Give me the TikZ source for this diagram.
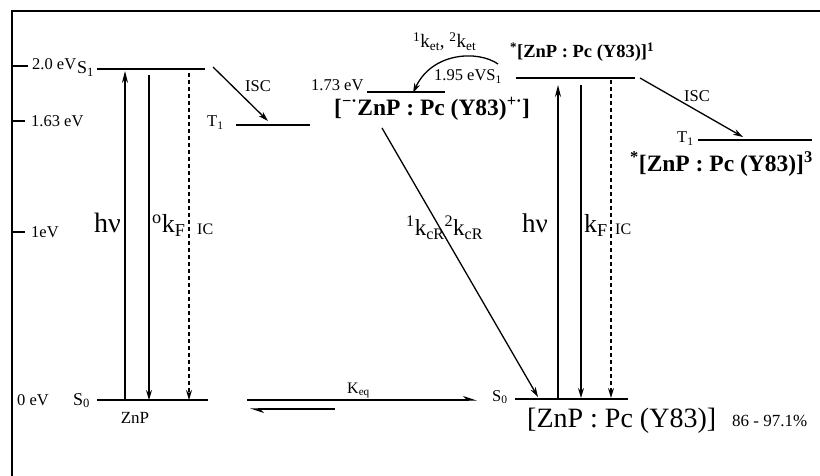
\documentclass[tikz,border=0pt]{standalone}
\usepackage{fontspec}
\setmainfont{Liberation Serif}
\usetikzlibrary{arrows.meta}
\newcommand\fsz[1]{\fontsize{#1}{#1}\selectfont}
\begin{document}
\begin{tikzpicture}[x=1pt,y=-1pt,
  frame/.style={line width=2pt},
  lvl/.style={line width=1.4pt},
  tick/.style={line width=1.2pt},
  tr/.style={line width=1.3pt,-{Stealth[length=10pt,width=6pt]}},
  trup/.style={line width=1.3pt,-{Stealth[length=12pt,width=6pt]}},
  trd/.style={line width=1.3pt,dash pattern=on 4pt off 3pt,-{Stealth[length=10pt,width=6pt]}},
  hp/.style={line width=1.3pt,-{Stealth[harpoon,length=12pt,width=8pt]}},
  lbl/.style={inner sep=0pt,anchor=base west,font=\fsz{16.5}},
]
\useasboundingbox (0,0) rectangle (820,476);
% frame
\coordinate (fr1) at (12,476);
\coordinate (fr2) at (12,11);
\coordinate (fr3) at (820,11);
\draw[frame] (fr1) -- (fr2) -- (fr3);
% axis ticks
\coordinate (t20a) at (12,66); \coordinate (t20b) at (28,66);
\coordinate (t16a) at (13,121); \coordinate (t16b) at (25,121);
\coordinate (t1a) at (12,232); \coordinate (t1b) at (25,232);
\draw[tick] (t20a) -- (t20b);
\draw[tick] (t16a) -- (t16b);
\draw[tick] (t1a) -- (t1b);
\node[lbl] (l20) at (32,70) {2.0 eV};
\node[lbl] (l163) at (31,127) {1.63 eV};
\node[lbl] (l1) at (31,237) {1eV};
\node[lbl] (l0) at (17,405) {0 eV};
% left (ZnP) levels
\coordinate (s1a) at (97,69); \coordinate (s1b) at (205,69);
\coordinate (lt1a) at (236,125); \coordinate (lt1b) at (310,125);
\coordinate (s0a) at (97,400); \coordinate (s0b) at (208,400);
\draw[lvl] (s1a) -- (s1b);
\draw[lvl] (lt1a) -- (lt1b);
\draw[lvl] (s0a) -- (s0b);
\node[lbl,font=\fsz{18}] (S1L) at (77,74) {S\textsubscript{1}};
\node[lbl,font=\fsz{18}] (S0L) at (73,405) {S\textsubscript{0}};
\node[lbl] (T1L) at (207,127) {T\textsubscript{1}};
\node[inner sep=0pt,anchor=base,font=\fsz{17}] (ZnP) at (135,423) {ZnP};
% left transitions
\coordinate (hv1a) at (125,400); \coordinate (hv1b) at (125,71);
\coordinate (kf1a) at (149,75); \coordinate (kf1b) at (149,400);
\coordinate (ic1a) at (189,73); \coordinate (ic1b) at (189,400);
\draw[trup] (hv1a) -- (hv1b);
\draw[tr] (kf1a) -- (kf1b);
\draw[trd] (ic1a) -- (ic1b);
\coordinate (isc1a) at (213,67); \coordinate (isc1b) at (268,121);
\draw[tr] (isc1a) -- (isc1b);
\node[lbl] (ISC1) at (245,92) {ISC};
\node[lbl,font=\fsz{28}] (hv1) at (94,233) {hν};
\node[lbl,font=\fsz{26}] (kF1) at (152,233) {\textsuperscript{o}k\textsubscript{F}};
\node[lbl,font=\fsz{16}] (IC1) at (197,235) {IC};
% equilibrium
\coordinate (eqa) at (247,400); \coordinate (eqb) at (477,400);
\coordinate (eqc) at (335,409); \coordinate (eqd) at (250,409);
\draw[hp] (eqa) -- (eqb);
\draw[hp] (eqc) -- (eqd);
\node[lbl,font=\fsz{16}] (Keq) at (347,393) {K\textsubscript{eq}};
% charge-separated state
\coordinate (csa) at (367,92); \coordinate (csb) at (445,92);
\draw[lvl] (csa) -- (csb);
\node[lbl] (l173) at (311,91) {1.73 eV};
\node[lbl,font=\fsz{23.5}\bfseries] (CS) at (334,116) {[\textsuperscript{−·}ZnP : Pc (Y83)\textsuperscript{+·}]};
% right levels
\coordinate (rs1a) at (516,78); \coordinate (rs1b) at (635,78);
\coordinate (rt1a) at (698,140); \coordinate (rt1b) at (812,140);
\coordinate (rs0a) at (515,399); \coordinate (rs0b) at (628,399);
\draw[lvl] (rs1a) -- (rs1b);
\draw[lvl] (rt1a) -- (rt1b);
\draw[lvl] (rs0a) -- (rs0b);
\node[lbl] (l195) at (434,81) {1.95 eVS\textsubscript{1}};
\node[lbl,font=\fsz{18.5}\bfseries] (SS1) at (510,58) {\textsuperscript{*}[ZnP : Pc (Y83)]\textsuperscript{1}};
\node[lbl] (T1R) at (677,143) {T\textsubscript{1}};
\node[lbl,font=\fsz{23.5}\bfseries] (TT1) at (630,172) {\textsuperscript{*}[ZnP : Pc (Y83)]\textsuperscript{3}};
\node[lbl] (S0R) at (492,401) {S\textsubscript{0}};
\node[lbl,font=\fsz{28}] (GS) at (527,427) {[ZnP : Pc (Y83)]};
\node[lbl,font=\fsz{17}] (pct) at (732,426) {86 - 97.1\%};
% right transitions
\coordinate (hv2a) at (558,399); \coordinate (hv2b) at (558,85);
\coordinate (kf2a) at (581,85); \coordinate (kf2b) at (581,398);
\coordinate (ic2a) at (611,80); \coordinate (ic2b) at (611,398);
\draw[trup] (hv2a) -- (hv2b);
\draw[tr] (kf2a) -- (kf2b);
\draw[trd] (ic2a) -- (ic2b);
\node[lbl,font=\fsz{27}] (hv2) at (522,233) {hν};
\node[lbl,font=\fsz{26}] (kF2) at (584,233) {k\textsubscript{F}};
\node[lbl,font=\fsz{16}] (IC2) at (615,235) {IC};
\coordinate (isc2a) at (640,78); \coordinate (isc2b) at (743,137);
\draw[tr] (isc2a) -- (isc2b);
\node[lbl] (ISC2) at (684,102) {ISC};
% electron transfer (curved)
\coordinate (eta) at (498,64); \coordinate (etb) at (413,93);
\draw[tr] (eta) .. controls (478,50) and (432,52) .. (etb);
\node[lbl,font=\fsz{19}] (ket) at (413,48) {\textsuperscript{1}k\textsubscript{et}, \textsuperscript{2}k\textsubscript{et}};
% charge recombination
\coordinate (cra) at (382,128); \coordinate (crb) at (538,397);
\draw[tr] (cra) -- (crb);
\node[lbl,font=\fsz{23}] (kcR) at (406,236) {\textsuperscript{1}k\textsubscript{cR}\textsuperscript{2}k\textsubscript{cR}};
\end{tikzpicture}
\end{document}
